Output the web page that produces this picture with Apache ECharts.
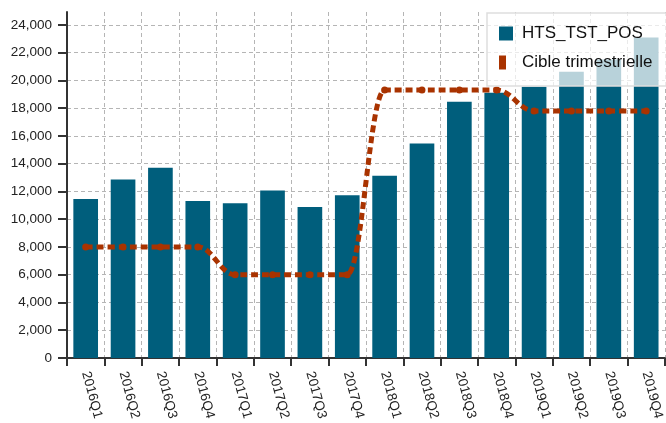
<!DOCTYPE html>
<html>
<head>
<meta charset="utf-8">
<script src="https://cdn.jsdelivr.net/npm/echarts@6/dist/echarts.min.js"></script>
<style>
html,body{margin:0;padding:0;background:#fff;}
#c{width:666px;height:423px;}
</style>
</head>
<body>
<div id="c"></div>
<script>
const categories = ['2016Q1','2016Q2','2016Q3','2016Q4','2017Q1','2017Q2','2017Q3','2017Q4','2018Q1','2018Q2','2018Q3','2018Q4','2019Q1','2019Q2','2019Q3','2019Q4'];
const htsTstPos = [11450, 12850, 13700, 11300, 11150, 12070, 10870, 11720, 13130, 15460, 18470, 19110, 19550, 20630, 21500, 23100];
const cibleTrimestrielle = [8000, 8000, 8000, 8000, 6000, 6000, 6000, 6000, 19300, 19300, 19300, 19300, 17800, 17800, 17800, 17800];
const yTicks = {min: 0, max: 24930, interval: 2000};

const FONT = 'Liberation Sans, Arial, Helvetica, sans-serif';
const chart = echarts.init(document.getElementById('c'), null, {renderer: 'canvas'});
chart.setOption({
  animation: false,
  textStyle: {fontFamily: FONT},
  grid: {left: 67, top: 12, width: 603, height: 354, containLabel: false},
  legend: {
    orient: 'vertical',
    left: 487, top: 13,
    padding: [12, 60, 15, 12],
    itemGap: 12,
    itemWidth: 14, itemHeight: 14,
    backgroundColor: 'rgba(255,255,255,0.72)',
    borderColor: '#dedede', borderWidth: 1.5,
    itemStyle: {borderWidth: 0},
    textStyle: {fontFamily: FONT, fontSize: 17, color: '#111', lineHeight: 14, padding: [0,0,0,4]},
    data: [
      {name: 'HTS_TST_POS', icon: 'path://M0 0H14V14H0Z'},
      {name: 'Cible trimestrielle', icon: 'path://M0 0H7V14H0Z M14 14L14 14'}
    ]
  },
  xAxis: {
    type: 'category',
    data: categories,
    boundaryGap: true,
    axisLine: {lineStyle: {color: '#333', width: 2}},
    axisTick: {show: true, length: 8, lineStyle: {color: '#333', width: 2}},
    axisLabel: {rotate: -75, margin: 14, fontSize: 13.5, color: '#222', fontFamily: FONT, interval: 0},
    splitLine: {show: true, lineStyle: {color: '#b5b5b5', type: [4, 3], width: 1}}
  },
  yAxis: {
    type: 'value',
    min: yTicks.min, max: yTicks.max, interval: yTicks.interval,
    axisLine: {show: true, lineStyle: {color: '#333', width: 2}},
    axisTick: {show: true, length: 9, lineStyle: {color: '#333', width: 2}},
    axisLabel: {
      margin: 15, fontSize: 13.5, color: '#222', fontFamily: FONT, showMaxLabel: false,
      formatter: v => v.toLocaleString('en-US')
    },
    splitLine: {show: true, showMaxLine: false, lineStyle: {color: '#b5b5b5', type: [4, 3], width: 1}}
  },
  series: [
    {
      name: 'HTS_TST_POS',
      type: 'bar',
      data: htsTstPos,
      barCategoryGap: '34%',
      itemStyle: {color: '#005e7c'}
    },
    {
      name: 'Cible trimestrielle',
      type: 'line',
      data: cibleTrimestrielle,
      smooth: 0.4,
      smoothMonotone: 'x',
      symbol: 'circle',
      symbolSize: 7,
      showSymbol: true,
      itemStyle: {color: '#a93300'},
      lineStyle: {color: '#a93300', width: 5, type: [7, 4]},
      z: 3
    }
  ]
});
</script>
</body>
</html>
